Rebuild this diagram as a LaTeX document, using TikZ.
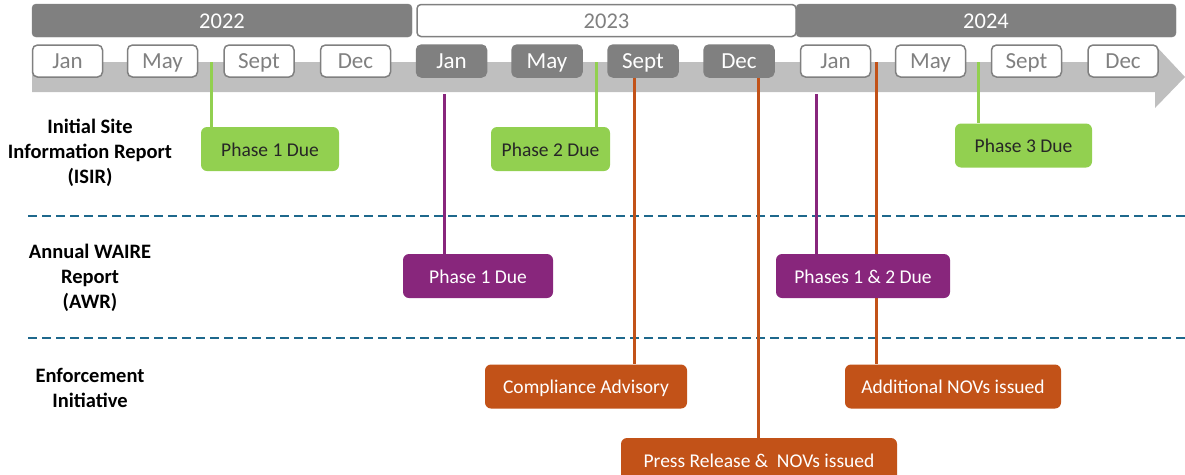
\documentclass[tikz,border=0pt]{standalone}
\usepackage{fontspec}
\setmainfont{Carlito}
\definecolor{yeargray}{RGB}{128,128,128}
\definecolor{bandgray}{RGB}{191,191,191}
\definecolor{lgreen}{RGB}{146,208,80}
\definecolor{dpurple}{RGB}{136,38,124}
\definecolor{dorange}{RGB}{194,82,24}
\definecolor{dashblue}{RGB}{30,104,140}
\pgfdeclarelayer{bandlayer}
\pgfdeclarelayer{linelayer}
\pgfsetlayers{bandlayer,linelayer,main}
\begin{document}
\begin{tikzpicture}[x=1pt,y=-1pt,
  yearbase/.style={rounded corners=4pt,inner sep=0pt,text height=19pt,text depth=4pt,font=\fontsize{22.5}{26}\selectfont},
  yearfill/.style={yearbase,fill=yeargray,draw=yeargray,minimum width=380pt,minimum height=33pt,text=white},
  yearopen/.style={yearbase,fill=white,draw=yeargray,line width=1.5pt,minimum width=379pt,minimum height=32pt,text=yeargray},
  monbase/.style={line width=1.5pt,rounded corners=5pt,minimum width=70pt,minimum height=32pt,inner sep=0pt,text height=18pt,text depth=4pt,font=\fontsize{23}{26}\selectfont},
  monopen/.style={monbase,fill=white,draw=yeargray,text=yeargray},
  monfill/.style={monbase,fill=yeargray,draw=yeargray,text=white},
  evbox/.style={rounded corners=6pt,minimum height=44pt,inner sep=0pt,text height=17.5pt,text depth=3.5pt,font=\fontsize{19.5}{22}\selectfont},
  greenbox/.style={evbox,fill=lgreen,text=black!85},
  purplebox/.style={evbox,fill=dpurple,text=white},
  orangebox/.style={evbox,fill=dorange,text=white},
  rowlabel/.style={align=center,font=\fontsize{20.5}{25}\selectfont\bfseries},
  gline/.style={draw=lgreen,line width=3pt},
  pline/.style={draw=dpurple,line width=3pt},
  oline/.style={draw=dorange,line width=3pt},
  sep/.style={draw=dashblue,line width=2.5pt,dash pattern=on 8.5pt off 5.5pt}
]
\useasboundingbox (0,0) rectangle (1185,474);

% timeline band with arrow head
\begin{pgfonlayer}{bandlayer}
\fill[bandgray] (32,62) -- (1155,62) -- (1155,45) -- (1185,77) -- (1155,108) -- (1155,92) -- (32,92) -- cycle;
\end{pgfonlayer}

% years
\node[yearfill] (y2022) at (222,20.5) {2022};
\node[yearopen] (y2023) at (606.5,20.5) {2023};
\node[yearfill] (y2024) at (986,20.5) {2024};

% months
\node[monopen] (m1) at (67.5,61) {Jan};
\node[monopen] (m2) at (162.5,61) {May};
\node[monopen] (m3) at (259,61) {Sept};
\node[monopen] (m4) at (355.5,61) {Dec};
\node[monfill] (m5) at (451.5,61) {Jan};
\node[monfill] (m6) at (547,61) {May};
\node[monfill] (m7) at (643,61) {Sept};
\node[monfill] (m8) at (739,61) {Dec};
\node[monopen] (m9) at (835.5,61) {Jan};
\node[monopen] (m10) at (930.5,61) {May};
\node[monopen] (m11) at (1026.5,61) {Sept};
\node[monopen] (m12) at (1123,61) {Dec};

% anchor coordinates for connector free ends
\coordinate (g1) at (211,62);
\coordinate (g2) at (596,62);
\coordinate (g3) at (978,62);
\coordinate (p1) at (444,94);
\coordinate (p2) at (816,94);
\coordinate (o1) at (634,78);
\coordinate (o2) at (758,78);
\coordinate (o3) at (876,62);

% event boxes
\node[greenbox,minimum width=138pt] (isir1) at (270,149) {Phase 1 Due};
\node[greenbox,minimum width=119pt] (isir2) at (550.5,149) {Phase 2 Due};
\node[greenbox,minimum width=137pt] (isir3) at (1023.5,145.5) {Phase 3 Due};
\node[purplebox,minimum width=150pt] (awr1) at (478,276) {Phase 1 Due};
\node[purplebox,minimum width=174pt] (awr2) at (863,276) {Phases 1 \& 2 Due};
\node[orangebox,minimum width=202pt] (ca) at (586,386.5) {Compliance Advisory};
\node[orangebox,minimum width=276pt] (pr) at (759,460) {Press Release \&\ \ NOVs issued};
\node[orangebox,minimum width=216pt] (an) at (953,386.5) {Additional NOVs issued};

% separators
\coordinate (s1a) at (28,216); \coordinate (s1b) at (1185,216);
\coordinate (s2a) at (28,338); \coordinate (s2b) at (1185,338);
\begin{pgfonlayer}{linelayer}
\draw[sep] (s1a) -- (s1b);
\draw[sep] (s2a) -- (s2b);
% connectors
\draw[gline] (g1) -- (g1 |- isir1.north);
\draw[gline] (g2) -- (g2 |- isir2.north);
\draw[gline] (g3) -- (g3 |- isir3.north);
\draw[pline] (p1) -- (p1 |- awr1.north);
\draw[pline] (p2) -- (p2 |- awr2.north);
\draw[oline] (o1) -- (o1 |- ca.north);
\draw[oline] (o2) -- (o2 |- pr.north);
\draw[oline] (o3) -- (o3 |- an.north);
\end{pgfonlayer}

% row labels
\node[rowlabel] (r1) at (90,153) {Initial Site\\Information Report\\(ISIR)};
\node[rowlabel] (r2) at (90,278) {Annual WAIRE\\Report\\(AWR)};
\node[rowlabel] (r3) at (90,387.5) {Enforcement\\Initiative};
\end{tikzpicture}
\end{document}
